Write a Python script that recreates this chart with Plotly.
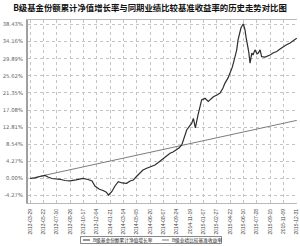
import plotly.graph_objects as go

title_text = "B级基金份额累计净值增长率与同期业绩比较基准收益率的历史走势对比图"
series_names = ["B级基金份额累计净值增长率", "B级业绩比较基准收益率"]

tick_dates = ["2013-03-29", "2013-05-22", "2013-07-10", "2013-08-26", "2013-10-17",
              "2013-12-04", "2014-01-21", "2014-03-14", "2014-05-05", "2014-06-20",
              "2014-08-07", "2014-09-24", "2014-11-19", "2015-01-07", "2015-02-27",
              "2015-04-22", "2015-06-10", "2015-07-28", "2015-09-15", "2015-11-09",
              "2015-12-31"]
tick_pos = list(range(len(tick_dates)))

y_ticks = [-4.27, 0.00, 4.27, 8.54, 12.81, 17.08, 21.35, 25.62, 29.89, 34.16, 38.43]

# fund NAV growth (position along the axis in tick intervals, percent)
nav_t = [0, 0.37, 0.75, 1.12, 1.35, 1.65, 1.95, 2.25, 2.62, 3.0, 3.45, 3.97, 4.35, 4.65,
         4.87, 5.17, 5.47, 5.7, 5.89, 6.13, 6.37, 6.62, 6.9, 7.25, 7.5, 7.75, 8.02, 8.25,
         8.47, 8.75, 9.0, 9.37, 9.67, 10.0, 10.27, 10.5, 10.72, 11.0, 11.17, 11.38, 11.55,
         11.75, 11.92, 12.13, 12.25, 12.4, 12.6, 12.87, 13.12, 13.37, 13.57, 13.75, 14.02,
         14.25, 14.47, 14.62, 14.85, 15.0, 15.15, 15.25, 15.37, 15.5, 15.6, 15.7, 15.82,
         16.0, 16.12, 16.2, 16.3, 16.4, 16.5, 16.63, 16.72, 16.87, 17.02, 17.12, 17.25,
         17.37, 17.62, 17.85, 18.0, 18.22, 18.5, 18.75, 19.0, 19.2, 19.5, 19.72, 20.0]
nav_v = [0, 0.12, 0.5, 0.75, 0.37, 0, -0.12, -0.2, -0.5, -0.62, -0.37, 0, -0.25, -0.62,
         -1.87, -2.62, -3.0, -3.37, -4.12, -3.3, -1.87, -0.8, -1.12, -1.2, -0.62, -0.37,
         0.62, 1.45, 2.12, 2.55, 2.87, 3.37, 4.12, 5.04, 5.62, 6.29, 6.62, 7.12, 7.62, 8.37,
         10.1, 12.1, 12.86, 13.8, 15.0, 12.6, 15.85, 19.6, 20.0, 19.2, 19.85, 20.4, 20.85,
         21.3, 22.6, 23.8, 25.1, 26.3, 27.6, 28.8, 30.3, 32.1, 34.6, 36.3, 37.6, 38.6, 37.1,
         35.3, 33.8, 31.6, 28.8, 31.3, 30.8, 32.1, 31.1, 31.3, 32.1, 30.4, 30.3, 30.6, 30.8,
         31.3, 31.7, 32.3, 32.9, 33.3, 33.8, 34.3, 35.0]

# benchmark
bm_t = tick_pos
bm_v = [0, 0.72, 1.45, 2.17, 2.9, 3.62, 4.35, 5.07, 5.8, 6.52, 7.25, 7.97, 8.7, 9.42,
        10.15, 10.87, 11.6, 12.32, 13.05, 13.77, 14.5]

fig = go.Figure()
fig.add_trace(go.Scatter(x=bm_t, y=bm_v, mode="lines", name=series_names[1],
                         line=dict(color="#6e6e6e", width=0.9), showlegend=False))
fig.add_trace(go.Scatter(x=nav_t, y=nav_v, mode="lines", name=series_names[0],
                         line=dict(color="#2e2e2e", width=1.2), showlegend=False))

font_cjk = "Noto Sans CJK SC"
fig.update_layout(
    width=300, height=246,
    margin=dict(l=28, r=3, t=20, b=43),
    paper_bgcolor="white", plot_bgcolor="white",
    title=dict(text="<b>" + title_text + "</b>", x=0.5, xanchor="center", y=0.968, yanchor="middle",
               font=dict(family=font_cjk, size=8.4, color="#111")),
    xaxis=dict(range=[-0.15, 20.02], tickmode="array", tickvals=tick_pos, ticktext=tick_dates,
               tickangle=-90, tickfont=dict(family="Liberation Sans", size=5, color="#444"),
               showgrid=True, gridcolor="#c4c4c4", griddash="dot", gridwidth=0.6,
               zeroline=False, showline=True, linecolor="#bbbbbb", linewidth=0.8, mirror=True,
               ticks="", automargin=False, ticklabelstandoff=3),
    yaxis=dict(range=[-6.12, 39.55], tickmode="array", tickvals=y_ticks,
               ticktext=["%.2f%%" % v for v in y_ticks],
               tickfont=dict(family="DejaVu Sans", size=5.3, color="#666"),
               showgrid=True, gridcolor="#c4c4c4", griddash="dot", gridwidth=0.6,
               zeroline=False, showline=True, linecolor="#a0a0a0", linewidth=2, ticks="",
               ticklabelstandoff=2, automargin=False),
)

# manual legend (paper coords; plot area spans x 28..297, y 20..203 px)
def px_x(p):
    return (p - 28) / 269

def px_y(p):
    return (203 - p) / 183

fig.add_shape(type="rect", xref="paper", yref="paper", x0=px_x(80.5), x1=px_x(221.5),
              y0=px_y(243.5), y1=px_y(236.5),
              line=dict(color="#555", width=0.7), fillcolor="white")
ymid = px_y(240)
fig.add_shape(type="line", xref="paper", yref="paper", x0=px_x(83), x1=px_x(90),
              y0=ymid, y1=ymid, line=dict(color="#2e2e2e", width=1))
fig.add_shape(type="line", xref="paper", yref="paper", x0=px_x(162), x1=px_x(169),
              y0=ymid, y1=ymid, line=dict(color="#6e6e6e", width=0.9))
fig.add_annotation(xref="paper", yref="paper", x=px_x(91), y=ymid, xanchor="left",
                   yanchor="middle", text=series_names[0], showarrow=False,
                   font=dict(family=font_cjk, size=4.7, color="#222"))
fig.add_annotation(xref="paper", yref="paper", x=px_x(170), y=ymid, xanchor="left",
                   yanchor="middle", text=series_names[1], showarrow=False,
                   font=dict(family=font_cjk, size=4.7, color="#222"))

fig.write_html("out.html")
